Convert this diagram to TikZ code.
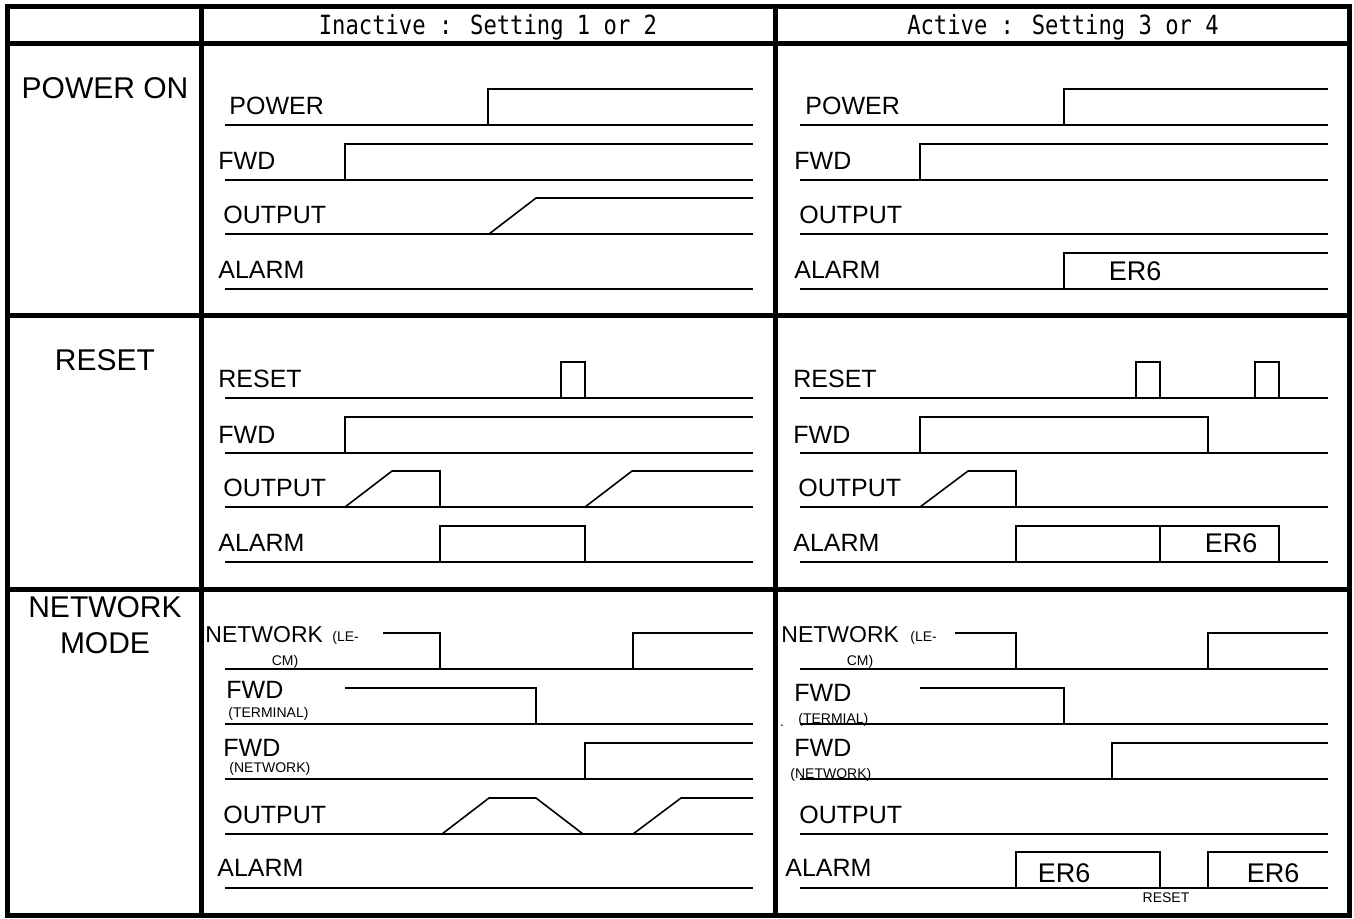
\documentclass[tikz,border=0pt]{standalone}
\usepackage{fontspec}
\usepackage{graphicx}
\setmainfont{Liberation Sans}
\newfontfamily\hdrfont{DejaVu Sans Mono}
\usepackage{tikz}

\newcommand{\hdrtext}[1]{\scalebox{0.84}[1]{#1}}

\tikzset{
  frame/.style={line width=2.5pt},
  sig/.style={line width=0.8pt},
  lbl/.style={anchor=west,inner sep=0pt,font=\fontsize{12.5}{14}\selectfont},
  ttl/.style={inner sep=0pt,font=\fontsize{15}{17}\selectfont},
  hdr/.style={anchor=base,inner sep=0pt,font=\hdrfont\fontsize{13.2}{15}\selectfont},
  er/.style={inner sep=0pt,font=\fontsize{13.5}{15}\selectfont},
  sub/.style={anchor=west,inner sep=0pt,font=\fontsize{7}{8}\selectfont}
}

\begin{document}
\begin{tikzpicture}[x=0.5pt,y=-0.5pt]
  \useasboundingbox (0,0) rectangle (1354,918);
  % table
  \draw[frame] (7,6) rectangle (1349,915);
  \foreach \y in {43,315,589}{\draw[frame] (7,\y)--(1349,\y);}
  \foreach \x in {201,775}{\draw[frame] (\x,6)--(\x,915);}
  \node[hdr] (hdrL) at (488,34) {\hdrtext{Inactive : Setting 1 or 2}};
  \node[hdr] (hdrR) at (1063,34) {\hdrtext{Active : Setting 3 or 4}};
  \node[ttl] (tPwr) at (105,88) {POWER ON};
  \node[ttl] (tRst) at (105,360) {RESET};
  \node[ttl] (tNet) at (105,607) {NETWORK};
  \node[ttl] (tMode) at (105,643) {MODE};
  % base lines
  \foreach \y in {125,180,234,289,398,453,507,562,669,724,779,834,888}{
    \draw[sig] (225,\y)--(753,\y);
    \draw[sig] (800,\y)--(1328,\y);}
  % power on
  \foreach \t/\x/\y [count=\i] in {POWER/229/106,FWD/218/161,OUTPUT/223/215,ALARM/218/270}{
    \node[lbl] (pwrL\i) at (\x,\y) {\t};
    \node[lbl] (pwrR\i) at ({\x+576},\y) {\t};}
  \draw[sig] (488,125)--(488,89)--(753,89);
  \draw[sig] (1064,125)--(1064,89)--(1328,89);
  \draw[sig] (345,180)--(345,144)--(753,144);
  \draw[sig] (920,180)--(920,144)--(1328,144);
  \draw[sig] (489,234)--(536,198)--(753,198);
  \draw[sig] (1064,289)--(1064,253)--(1328,253);
  \node[er] (erP) at (1135,271) {ER6};
  % reset
  \foreach \t/\x/\y [count=\i] in {RESET/218/379,FWD/218/435,OUTPUT/223/488,ALARM/218/543}{
    \node[lbl] (rstL\i) at (\x,\y) {\t};
    \node[lbl] (rstR\i) at ({\x+575},\y) {\t};}
  \draw[sig] (561,398)--(561,362)--(585,362)--(585,398);
  \draw[sig] (1136,398)--(1136,362)--(1160,362)--(1160,398);
  \draw[sig] (1255,398)--(1255,362)--(1279,362)--(1279,398);
  \draw[sig] (345,453)--(345,417)--(753,417);
  \draw[sig] (920,453)--(920,417)--(1208,417)--(1208,453);
  \draw[sig] (345,507)--(392,471)--(440,471)--(440,507);
  \draw[sig] (585,507)--(632,471)--(753,471);
  \draw[sig] (920,507)--(968,471)--(1016,471)--(1016,507);
  \draw[sig] (440,562)--(440,526)--(585,526)--(585,562);
  \draw[sig] (1016,562)--(1016,526)--(1279,526)--(1279,562);
  \draw[sig] (1160,526)--(1160,562);
  \node[er] (erR) at (1231,543) {ER6};
  % network mode
  \node[lbl,font=\fontsize{11.5}{13}\selectfont] (netL1) at (205,635) {NETWORK};
  \node[sub] (leL) at (332,638) {(LE-};
  \node[sub,anchor=center] (cmL) at (285,662) {CM)};
  \node[lbl] (netL2) at (226,690) {FWD};
  \node[sub] (termL) at (228,714) {(TERMINAL)};
  \node[lbl] (netL3) at (223,748) {FWD};
  \node[sub] (nwL) at (229,769) {(NETWORK)};
  \node[lbl] (netL4) at (223,815) {OUTPUT};
  \node[lbl] (netL5) at (217,868) {ALARM};
  \node[lbl,font=\fontsize{11.5}{13}\selectfont] (netR1) at (781,635) {NETWORK};
  \node[sub] (leR) at (910,638) {(LE-};
  \node[sub,anchor=center] (cmR) at (860,662) {CM)};
  \node[lbl] (netR2) at (794,693) {FWD};
  \node[sub] (termR) at (798,720) {(TERMIAL)};
  \node[sub,anchor=base] (dot) at (782,726) {.};
  \node[lbl] (netR3) at (794,748) {FWD};
  \node[sub] (nwR) at (790,775) {(NETWORK)};
  \node[lbl] (netR4) at (799,815) {OUTPUT};
  \node[lbl] (netR5) at (785,868) {ALARM};
  \draw[sig] (383,633)--(440,633)--(440,669);
  \draw[sig] (633,669)--(633,633)--(753,633);
  \draw[sig] (955,633)--(1016,633)--(1016,669);
  \draw[sig] (1208,669)--(1208,633)--(1328,633);
  \draw[sig] (345,688)--(536,688)--(536,724);
  \draw[sig] (920,688)--(1064,688)--(1064,724);
  \draw[sig] (585,779)--(585,743)--(753,743);
  \draw[sig] (1112,779)--(1112,743)--(1328,743);
  \draw[sig] (442,834)--(489,798)--(536,798)--(583,834);
  \draw[sig] (633,834)--(681,798)--(753,798);
  \draw[sig] (1016,888)--(1016,852)--(1160,852)--(1160,888);
  \draw[sig] (1208,888)--(1208,852)--(1328,852);
  \node[er] (erN1) at (1064,873) {ER6};
  \node[er] (erN2) at (1273,873) {ER6};
  \node[sub,anchor=center] (rstN) at (1166,898) {RESET};
\end{tikzpicture}
\end{document}
